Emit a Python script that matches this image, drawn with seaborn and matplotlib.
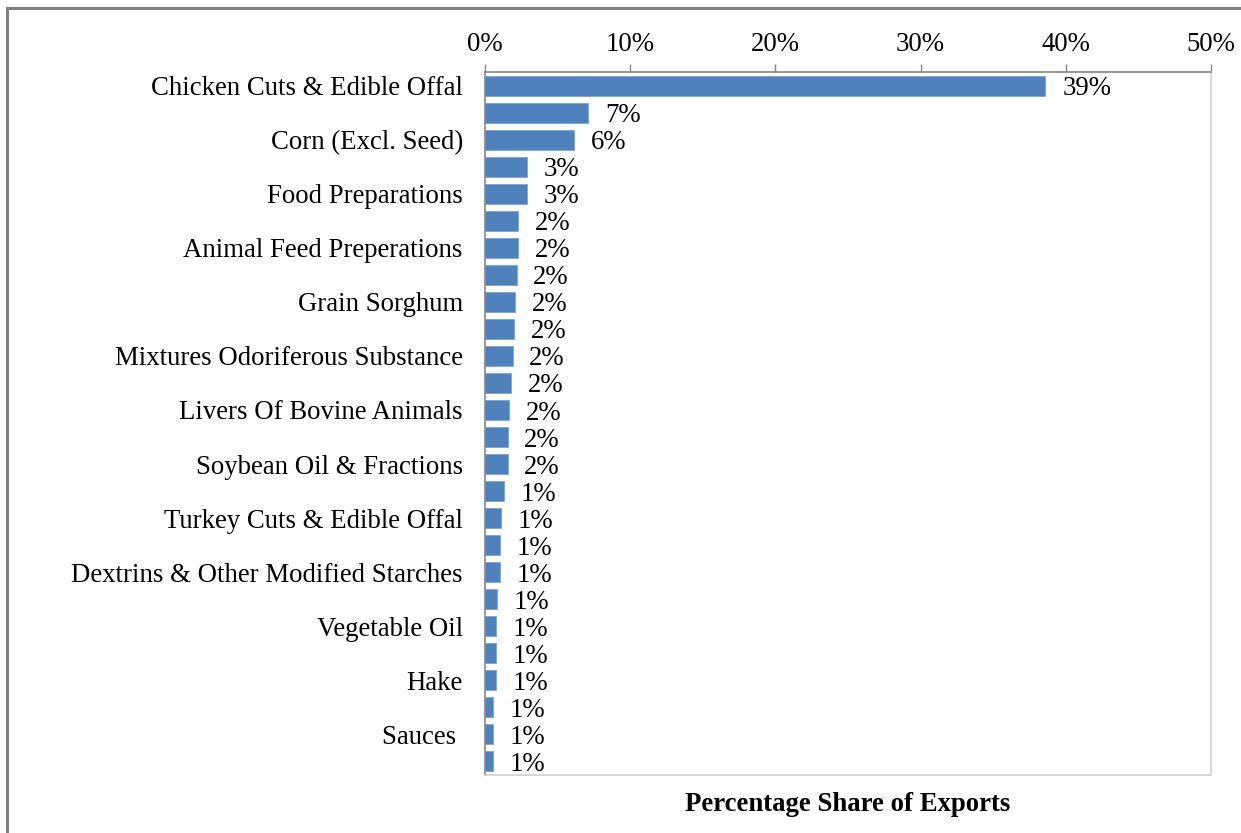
import numpy as np
import pandas as pd
import matplotlib
matplotlib.use("Agg")
import matplotlib.pyplot as plt
from matplotlib.ticker import PercentFormatter
from matplotlib.patches import Rectangle
import seaborn as sns

# Share of exports per product line (fractions), top to bottom
shares = [0.386, 0.071, 0.0615, 0.029, 0.029, 0.023, 0.023, 0.0218, 0.0207,
          0.020, 0.019, 0.0181, 0.0165, 0.0156, 0.0156, 0.0129, 0.0112,
          0.0103, 0.0103, 0.0085, 0.0076, 0.0076, 0.0076, 0.0057, 0.0057,
          0.0052]

# Names shown on every other row
row_labels = ["Chicken Cuts & Edible Offal", "Corn (Excl. Seed)",
              "Food Preparations", "Animal Feed Preperations",
              "Grain Sorghum", "Mixtures Odoriferous Substance",
              "Livers Of Bovine Animals", "Soybean Oil & Fractions",
              "Turkey Cuts & Edible Offal",
              "Dextrins & Other Modified Starches", "Vegetable Oil",
              "Hake", "Sauces "]

x_ticks = [0.0, 0.1, 0.2, 0.3, 0.4, 0.5]
x_title = "Percentage Share of Exports"

sns.set_style("white")
plt.rcParams["font.family"] = ["Liberation Serif", "DejaVu Serif"]
plt.rcParams["text.color"] = "black"
plt.rcParams["xtick.labelcolor"] = "black"
plt.rcParams["ytick.labelcolor"] = "black"
plt.rcParams["axes.labelcolor"] = "black"

FS = 19.3

df = pd.DataFrame({"row": range(len(shares)), "share": shares})

fig = plt.figure(figsize=(12.41, 8.33), dpi=100)
ax = fig.add_axes([485 / 1241, 1 - 775 / 833, (1211 - 485) / 1241, (775 - 72) / 833])

sns.barplot(data=df, x="share", y="row", orient="h", color="#4f81bd",
            saturation=1, width=0.74, edgecolor="#7da4d4", linewidth=0.6,
            ax=ax)

ax.set_xlim(0, 0.5)
ax.set_ylim(len(shares) - 0.5, -0.5)
ax.xaxis.tick_top()
ax.set_xticks(x_ticks)
ax.xaxis.set_major_formatter(PercentFormatter(1.0, decimals=0))
ax.tick_params(axis="x", which="major", direction="out", length=6,
               width=1, color="#868686", labelsize=FS, pad=5)

# labels every other row, tick marks on category boundaries
ax.set_yticks(np.arange(0, len(shares), 2))
ax.set_yticklabels(row_labels)
ax.set_yticks(np.arange(-0.5, len(shares), 1), minor=True)
ax.tick_params(axis="y", which="major", length=0, labelsize=FS, pad=16)
ax.tick_params(axis="y", which="minor", direction="out", length=7,
               width=1, color="#868686")
ax.set_ylabel("")

ax.set_xlabel(x_title, fontsize=FS, fontweight="bold", labelpad=12)
ax.xaxis.set_label_position("bottom")

for side in ("top", "left"):
    ax.spines[side].set_visible(True)
    ax.spines[side].set_color("#868686")
    ax.spines[side].set_linewidth(1.2)
for side in ("right", "bottom"):
    ax.spines[side].set_visible(True)
    ax.spines[side].set_color("#d0d0d0")
    ax.spines[side].set_linewidth(1.2)

for cont in ax.containers:
    texts = ax.bar_label(cont, labels=[f"{v:.0%}" for v in shares],
                         padding=12, fontsize=FS, color="black")
    for t in texts:
        t.xyann = (12, -2.2)

# outer frame of the figure
fig.patches.append(Rectangle((7 / 1241, -0.01), 1.02, 1 - 8 / 833 + 0.01,
                             transform=fig.transFigure, fill=False,
                             edgecolor="#7f7f7f", linewidth=2.2))

fig.savefig("out.png", dpi=100)
